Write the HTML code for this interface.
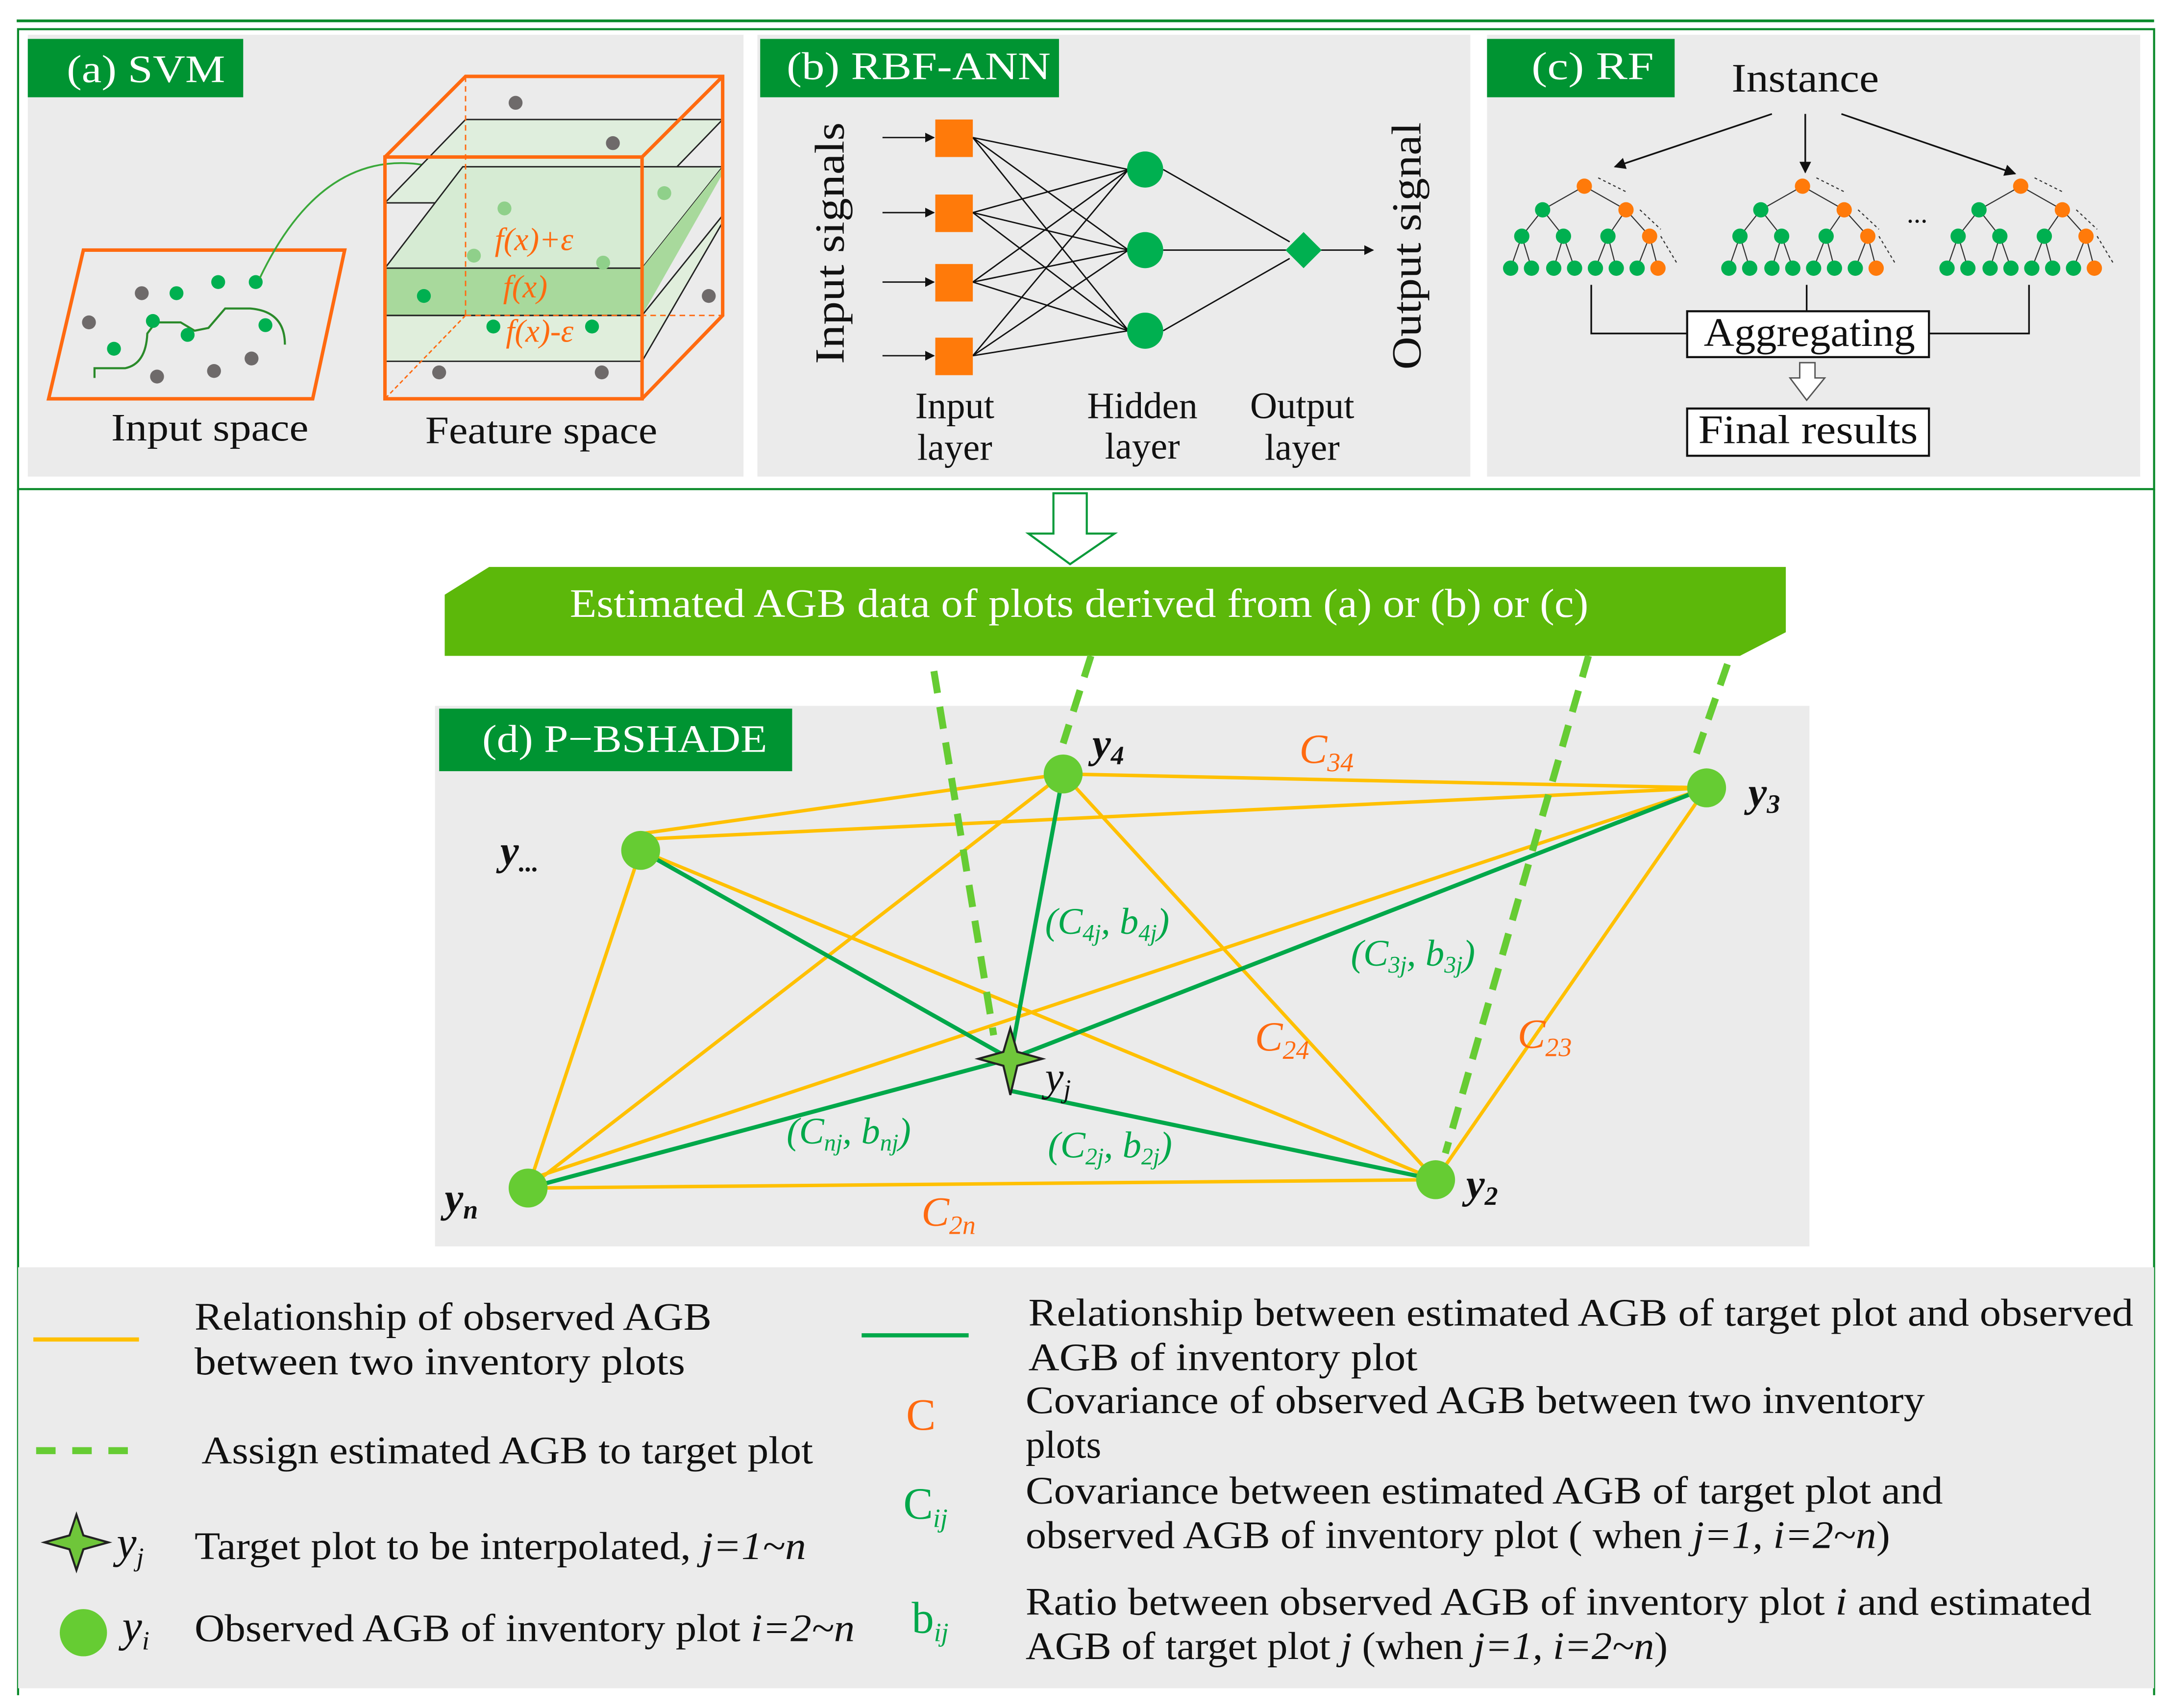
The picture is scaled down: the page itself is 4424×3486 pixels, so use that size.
<!DOCTYPE html>
<html><head><meta charset="utf-8"><style>
html,body{margin:0;padding:0;background:#fff}
svg{display:block}
text{font-family:"Liberation Serif",serif}
</style></head><body>
<svg width="4424" height="3486" viewBox="0 0 1560 1229.2" preserveAspectRatio="none" xmlns="http://www.w3.org/2000/svg">
<defs><marker id="ah" viewBox="0 0 10 10" refX="9" refY="5" markerWidth="7" markerHeight="7" orient="auto"><path d="M0,0 L10,5 L0,10 z" fill="#111"/></marker></defs>
<rect width="1560" height="1230" fill="#fff"/>
<!-- frames -->
<line x1="12" y1="15" x2="1550" y2="15" stroke="#0a8a2a" stroke-width="2"/>
<rect x="13" y="21" width="1537" height="331" fill="none" stroke="#0a8a2a" stroke-width="1.5"/>
<line x1="13" y1="352" x2="13" y2="1220" stroke="#0a8a2a" stroke-width="1.5"/>
<line x1="1550" y1="352" x2="1550" y2="1220" stroke="#0a8a2a" stroke-width="1.5"/>
<!-- panels bg -->
<rect x="20" y="25" width="515" height="318" fill="#ebebeb"/>
<rect x="545" y="25" width="513" height="318" fill="#ebebeb"/>
<rect x="1070" y="25" width="470" height="318" fill="#ebebeb"/>
<g font-size="28" fill="#fff" lengthAdjust="spacingAndGlyphs">
<rect x="20" y="28" width="155" height="42" fill="#009432"/>
<text x="48" y="59" textLength="114" lengthAdjust="spacingAndGlyphs">(a)  SVM</text>
<rect x="547" y="28" width="215" height="42" fill="#009432"/>
<text x="566" y="57" textLength="190" lengthAdjust="spacingAndGlyphs">(b)  RBF-ANN</text>
<rect x="1070" y="28" width="135" height="42" fill="#009432"/>
<text x="1102" y="57" textLength="88" lengthAdjust="spacingAndGlyphs">(c)  RF</text>
</g>

<!-- (a) -->
<polygon points="60,180 248,180 225,287 35,287" fill="none" stroke="#ff6a10" stroke-width="2.5"/>
<path d="M68,272 L68,265 L90,265 Q105,262 106,240 L112,232 L130,232 L140,238 L150,236 L162,222 L180,222 Q205,224 205,248" fill="none" stroke="#2a8a2a" stroke-width="1.5"/>
<g fill="#6e6a6a"><circle cx="102" cy="211" r="5"/><circle cx="64" cy="232" r="5"/><circle cx="113" cy="271" r="5"/><circle cx="154" cy="267" r="5"/><circle cx="181" cy="258" r="5"/></g>
<g fill="#00b050"><circle cx="127" cy="211" r="5"/><circle cx="157" cy="203" r="5"/><circle cx="184" cy="203" r="5"/><circle cx="110" cy="231" r="5"/><circle cx="135" cy="241" r="5"/><circle cx="191" cy="234" r="5"/><circle cx="82" cy="251" r="5"/></g>
<path d="M187,200 Q230,110 300,118 Q350,125 362,150" fill="none" stroke="#3aa83a" stroke-width="1.3"/>
<!-- cube -->
<polygon points="335,86 520,86 462,146 277,146" fill="#dfeedd" stroke="#222" stroke-width="1"/>
<polygon points="333,120 520,120 462,227 277,227" fill="#cfe6c9" opacity="0.8"/>
<polygon points="333,120 520,120 462,193 277,193" fill="#d6ebd3" stroke="#222" stroke-width="1"/>
<polygon points="277,193 462,193 520,120 520,125 462,227 277,227" fill="#a8d99c"/>
<polygon points="277,227 462,227 520,155 520,160 462,260 277,260" fill="#e0eedc" stroke="#222" stroke-width="1"/>
<line x1="277" y1="193" x2="462" y2="193" stroke="#222"/>
<line x1="277" y1="227" x2="462" y2="227" stroke="#222"/>
<line x1="335" y1="55" x2="335" y2="227" stroke="#ff6a10" stroke-dasharray="4,3"/>
<line x1="335" y1="227" x2="520" y2="227" stroke="#ff6a10" stroke-dasharray="4,3"/>
<line x1="335" y1="227" x2="277" y2="287" stroke="#ff6a10" stroke-dasharray="3,2"/>
<rect x="277" y="113" width="185" height="174" fill="none" stroke="#ff6a10" stroke-width="2.5"/>
<polyline points="277,113 335,55 520,55 520,227 462,287" fill="none" stroke="#ff6a10" stroke-width="2.5"/>
<line x1="462" y1="113" x2="520" y2="55" stroke="#ff6a10" stroke-width="2.5"/>
<g fill="#6e6a6a"><circle cx="371" cy="74" r="5"/><circle cx="441" cy="103" r="5"/><circle cx="510" cy="213" r="5"/><circle cx="316" cy="268" r="5"/><circle cx="433" cy="268" r="5"/></g>
<g fill="#8fd08a"><circle cx="363" cy="150" r="5"/><circle cx="341" cy="184" r="5"/><circle cx="434" cy="189" r="5"/><circle cx="478" cy="139" r="5"/></g>
<g fill="#00b050"><circle cx="305" cy="213" r="5"/><circle cx="355" cy="235" r="5"/><circle cx="426" cy="235" r="5"/></g>
<text x="356" y="180" font-size="23" font-style="italic" fill="#ff6a10">f(x)+ε</text>
<text x="362" y="214" font-size="23" font-style="italic" fill="#ff6a10">f(x)</text>
<text x="364" y="246" font-size="23" font-style="italic" fill="#ff6a10">f(x)-ε</text>
<text x="80" y="317" font-size="28" fill="#111" textLength="142" lengthAdjust="spacingAndGlyphs">Input space</text>
<text x="306" y="319" font-size="28" fill="#111" textLength="167" lengthAdjust="spacingAndGlyphs">Feature space</text>

<!-- (b) -->
<text transform="translate(607,262) rotate(-90)" font-size="30" fill="#111" textLength="174" lengthAdjust="spacingAndGlyphs">Input signals</text>
<text transform="translate(1022,266) rotate(-90)" font-size="30" fill="#111" textLength="178" lengthAdjust="spacingAndGlyphs">Output signal</text>
<g stroke="#111" stroke-width="1">
<line x1="635" y1="99" x2="672" y2="99" marker-end="url(#ah)"/><line x1="635" y1="153" x2="672" y2="153" marker-end="url(#ah)"/><line x1="635" y1="203" x2="672" y2="203" marker-end="url(#ah)"/><line x1="635" y1="256" x2="672" y2="256" marker-end="url(#ah)"/>
<line x1="700" y1="99" x2="812" y2="122"/><line x1="700" y1="99" x2="812" y2="180"/><line x1="700" y1="99" x2="812" y2="238"/>
<line x1="700" y1="153" x2="812" y2="122"/><line x1="700" y1="153" x2="812" y2="180"/><line x1="700" y1="153" x2="812" y2="238"/>
<line x1="700" y1="203" x2="812" y2="122"/><line x1="700" y1="203" x2="812" y2="180"/><line x1="700" y1="203" x2="812" y2="238"/>
<line x1="700" y1="256" x2="812" y2="122"/><line x1="700" y1="256" x2="812" y2="180"/><line x1="700" y1="256" x2="812" y2="238"/>
<line x1="837" y1="122" x2="928" y2="174"/><line x1="837" y1="180" x2="926" y2="180"/><line x1="837" y1="238" x2="928" y2="186"/>
<line x1="950" y1="180" x2="988" y2="180" marker-end="url(#ah)"/>
</g>
<g fill="#ff7a0a"><rect x="673" y="86" width="27" height="27"/><rect x="673" y="140" width="27" height="27"/><rect x="673" y="190" width="27" height="27"/><rect x="673" y="243" width="27" height="27"/></g>
<g fill="#00b050"><circle cx="824" cy="122" r="13"/><circle cx="824" cy="180" r="13"/><circle cx="824" cy="238" r="13"/><polygon points="938,167 951,180 938,193 925,180"/></g>
<g font-size="27" fill="#111" text-anchor="middle">
<text x="687" y="301">Input</text><text x="687" y="331">layer</text>
<text x="822" y="301">Hidden</text><text x="822" y="330">layer</text>
<text x="937" y="301">Output</text><text x="937" y="331">layer</text>
</g>

<!-- (c) -->
<text x="1246" y="66" font-size="29" fill="#111" textLength="106" lengthAdjust="spacingAndGlyphs">Instance</text>
<g stroke="#111" stroke-width="1.2"><line x1="1275" y1="82" x2="1162" y2="120" marker-end="url(#ah)"/><line x1="1299" y1="82" x2="1299" y2="124" marker-end="url(#ah)"/><line x1="1325" y1="82" x2="1450" y2="125" marker-end="url(#ah)"/>
<polyline points="1145,205 1145,240 1215,240" fill="none"/><polyline points="1388,240 1460,240 1460,205" fill="none"/><line x1="1300" y1="205" x2="1300" y2="224"/></g>
<g id="tree">
<g stroke="#333" stroke-width="0.8" fill="none"><path d="M1140,134 L1110,151 L1095,170 L1087,193 M1110,151 L1125,170 L1133,193 M1140,134 L1170,151 L1157,170 L1148,193 M1170,151 L1187,170 L1178,193 M1095,170 L1102,193 M1125,170 L1118,193 M1157,170 L1163,193 M1187,170 L1193,193"/></g>
<g fill="#00b050"><circle cx="1110" cy="151" r="5.5"/><circle cx="1095" cy="170" r="5.5"/><circle cx="1125" cy="170" r="5.5"/><circle cx="1157" cy="170" r="5.5"/>
<circle cx="1087" cy="193" r="5.5"/><circle cx="1102" cy="193" r="5.5"/><circle cx="1118" cy="193" r="5.5"/><circle cx="1133" cy="193" r="5.5"/><circle cx="1148" cy="193" r="5.5"/><circle cx="1163" cy="193" r="5.5"/><circle cx="1178" cy="193" r="5.5"/></g>
<g fill="#ff7a0a"><circle cx="1140" cy="134" r="5.5"/><circle cx="1170" cy="151" r="5.5"/><circle cx="1187" cy="170" r="5.5"/><circle cx="1193" cy="193" r="5.5"/></g>
<path d="M1150,128 L1170,138 M1180,151 L1195,165 M1195,170 L1207,190" stroke="#333" stroke-width="0.8" stroke-dasharray="2,2"/>
</g>
<use href="#tree" x="157"/>
<use href="#tree" x="314"/>
<text x="1372" y="160" font-size="20" fill="#111">...</text>
<rect x="1214" y="224" width="174" height="33" fill="#fff" stroke="#111" stroke-width="1.5"/>
<text x="1226" y="249" font-size="29" fill="#111" textLength="152" lengthAdjust="spacingAndGlyphs">Aggregating</text>
<polygon points="1295,261 1306,261 1306,272 1313,272 1300,288 1288,272 1295,272" fill="#fff" stroke="#555" stroke-width="1"/>
<rect x="1214" y="294" width="174" height="34" fill="#fff" stroke="#111" stroke-width="1.5"/>
<text x="1222" y="319" font-size="29" fill="#111" textLength="158" lengthAdjust="spacingAndGlyphs">Final results</text>

<!-- down arrow -->
<polygon points="758,355 782,355 782,384 802,384 770,406 740,384 758,384" fill="#fff" stroke="#0a9a3a" stroke-width="1.5"/>

<!-- banner -->
<polygon points="352,408 1285,408 1285,455 1252,472 320,472 320,428" fill="#5cb80a"/>
<text x="410" y="444" font-size="29" fill="#fff" textLength="733" lengthAdjust="spacingAndGlyphs">Estimated AGB data of plots derived from (a) or (b) or (c)</text>

<!-- (d) -->
<rect x="313" y="508" width="989" height="389" fill="#ebebeb"/>
<rect x="316" y="510" width="254" height="45" fill="#009432"/>
<text x="347" y="541" font-size="28" fill="#fff" textLength="205" lengthAdjust="spacingAndGlyphs">(d)  P−BSHADE</text>
<g stroke="#ffc000" stroke-width="2.5" fill="none">
<line x1="461" y1="600" x2="765" y2="557"/><line x1="765" y1="557" x2="1228" y2="567"/><line x1="461" y1="604" x2="1228" y2="567"/>
<line x1="461" y1="612" x2="380" y2="855"/><line x1="461" y1="612" x2="1033" y2="849"/><line x1="765" y1="557" x2="380" y2="855"/>
<line x1="765" y1="557" x2="1033" y2="849"/><line x1="1228" y1="567" x2="380" y2="849"/><line x1="1228" y1="567" x2="1033" y2="849"/>
<line x1="380" y1="855" x2="1033" y2="849"/>
</g>
<g stroke="#00a84a" stroke-width="3" fill="none">
<line x1="461" y1="612" x2="727" y2="762"/><line x1="765" y1="557" x2="727" y2="762"/><line x1="1228" y1="567" x2="727" y2="762"/>
<line x1="380" y1="855" x2="727" y2="762"/><line x1="727" y1="785" x2="1033" y2="849"/>
</g>
<g stroke="#66cc33" stroke-width="5" stroke-dasharray="16,10" fill="none">
<line x1="672" y1="483" x2="715" y2="745"/><line x1="785" y1="472" x2="765" y2="535"/>
<line x1="1143" y1="472" x2="1040" y2="830"/><line x1="1243" y1="478" x2="1218" y2="550"/>
</g>
<g fill="#66cc33"><circle cx="765" cy="557" r="14"/><circle cx="1228" cy="567" r="14"/><circle cx="461" cy="612" r="14"/><circle cx="380" cy="855" r="14"/><circle cx="1033" cy="849" r="14"/></g>
<polygon points="727,740 732,757 750,762 732,767 727,788 722,767 704,762 722,757" fill="#6fc63a" stroke="#222" stroke-width="1.5"/>
<g font-size="30" font-style="italic" font-weight="bold" fill="#111">
<text x="786" y="545">y<tspan font-size="19" dy="5">4</tspan></text>
<text x="1258" y="580">y<tspan font-size="19" dy="5">3</tspan></text>
<text x="360" y="622">y<tspan font-size="19" dy="5">...</tspan></text>
<text x="320" y="872">y<tspan font-size="19" dy="5">n</tspan></text>
<text x="1055" y="862">y<tspan font-size="19" dy="5">2</tspan></text>
<text x="752" y="785" font-weight="normal">y<tspan font-size="19" dy="5">j</tspan></text>
</g>
<g font-size="30" font-style="italic" fill="#ff6a10">
<text x="935" y="549">C<tspan font-size="19" dy="6">34</tspan></text>
<text x="903" y="756">C<tspan font-size="19" dy="6">24</tspan></text>
<text x="1092" y="754">C<tspan font-size="19" dy="6">23</tspan></text>
<text x="663" y="882">C<tspan font-size="19" dy="6">2n</tspan></text>
</g>
<g font-size="27" font-style="italic" fill="#00a84a">
<text x="752" y="672">(C<tspan font-size="17" dy="5">4j</tspan><tspan dy="-5">, b</tspan><tspan font-size="17" dy="5">4j</tspan><tspan dy="-5">)</tspan></text>
<text x="972" y="695">(C<tspan font-size="17" dy="5">3j</tspan><tspan dy="-5">, b</tspan><tspan font-size="17" dy="5">3j</tspan><tspan dy="-5">)</tspan></text>
<text x="566" y="823">(C<tspan font-size="17" dy="5">nj</tspan><tspan dy="-5">, b</tspan><tspan font-size="17" dy="5">nj</tspan><tspan dy="-5">)</tspan></text>
<text x="754" y="833">(C<tspan font-size="17" dy="5">2j</tspan><tspan dy="-5">, b</tspan><tspan font-size="17" dy="5">2j</tspan><tspan dy="-5">)</tspan></text>
</g>

<!-- legend -->
<rect x="13" y="912" width="1537" height="303" fill="#ebebeb"/>
<line x1="24" y1="964" x2="100" y2="964" stroke="#ffc000" stroke-width="3"/>
<line x1="26" y1="1044" x2="104" y2="1044" stroke="#66cc33" stroke-width="5" stroke-dasharray="14,12"/>
<line x1="620" y1="961" x2="697" y2="961" stroke="#00a84a" stroke-width="3"/>
<polygon points="55,1090 60,1105 78,1110 60,1115 55,1130 50,1115 32,1110 50,1105" fill="#6fc63a" stroke="#222" stroke-width="1.5"/>
<circle cx="60" cy="1175" r="17" fill="#66cc33"/>
<g font-size="28" fill="#111">
<text x="140" y="957" textLength="372" lengthAdjust="spacingAndGlyphs">Relationship of observed AGB</text>
<text x="140" y="989" textLength="353" lengthAdjust="spacingAndGlyphs">between two inventory plots</text>
<text x="145" y="1053" textLength="440" lengthAdjust="spacingAndGlyphs">Assign estimated AGB to target plot</text>
<text x="84" y="1121" font-style="italic" font-size="32">y<tspan font-size="19" dy="6">j</tspan></text>
<text x="140" y="1122" textLength="440" lengthAdjust="spacingAndGlyphs">Target plot to be interpolated, <tspan font-style="italic">j=1~n</tspan></text>
<text x="88" y="1181" font-style="italic" font-size="32">y<tspan font-size="19" dy="6">i</tspan></text>
<text x="140" y="1181" textLength="475" lengthAdjust="spacingAndGlyphs">Observed AGB of inventory plot <tspan font-style="italic">i=2~n</tspan></text>
<text x="740" y="954" textLength="795" lengthAdjust="spacingAndGlyphs">Relationship between estimated AGB of target plot and observed</text>
<text x="740" y="986" textLength="280" lengthAdjust="spacingAndGlyphs">AGB of  inventory plot</text>
<text x="738" y="1017" textLength="647" lengthAdjust="spacingAndGlyphs">Covariance of observed AGB between two inventory</text>
<text x="738" y="1049">plots</text>
<text x="738" y="1082" textLength="660" lengthAdjust="spacingAndGlyphs">Covariance between estimated AGB of target plot and</text>
<text x="738" y="1114" textLength="622" lengthAdjust="spacingAndGlyphs">observed AGB of inventory plot ( when <tspan font-style="italic">j=1, i=2~n</tspan>)</text>
<text x="738" y="1162" textLength="767" lengthAdjust="spacingAndGlyphs">Ratio between observed AGB of inventory plot <tspan font-style="italic">i</tspan> and estimated</text>
<text x="738" y="1194" textLength="462" lengthAdjust="spacingAndGlyphs">AGB of target plot <tspan font-style="italic">j</tspan> (when <tspan font-style="italic">j=1, i=2~n</tspan>)</text>
</g>
<text x="652" y="1029" font-size="32" fill="#ff6a10">C</text>
<text x="650" y="1093" font-size="32" fill="#00a84a">C<tspan font-size="19" dy="6" font-style="italic">ij</tspan></text>
<text x="656" y="1175" font-size="32" fill="#00a84a">b<tspan font-size="19" dy="6" font-style="italic">ij</tspan></text>
</svg>
</body></html>
